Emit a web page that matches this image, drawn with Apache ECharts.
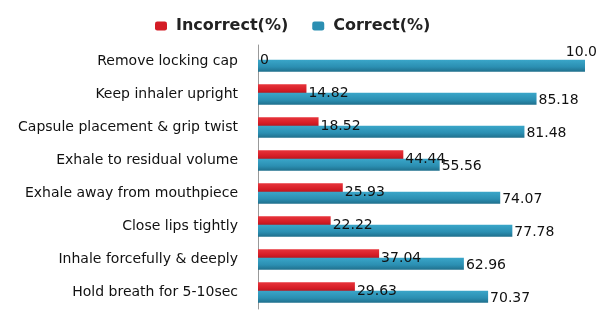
<!DOCTYPE html>
<html><head><meta charset="utf-8">
<script src="https://cdn.jsdelivr.net/npm/echarts@6/dist/echarts.min.js"></script>
<style>html,body{margin:0;padding:0;background:#fff}#c{width:601px;height:324px}</style>
</head><body><div id="c"></div>
<script>
var categories = ['Remove locking cap','Keep inhaler upright','Capsule placement & grip twist','Exhale to residual volume','Exhale away from mouthpiece','Close lips tightly','Inhale forcefully & deeply','Hold breath for 5-10sec'];
var incorrect = [0,14.82,18.52,44.44,25.93,22.22,37.04,29.63];
var correct = [100,85.18,81.48,55.56,74.07,77.78,62.96,70.37];
var incorrectLabels = ['0','14.82','18.52','44.44','25.93','22.22','37.04','29.63'];
var correctLabels = ['10.0','85.18','81.48','55.56','74.07','77.78','62.96','70.37'];

var chart = echarts.init(document.getElementById('c'), null, {renderer:'canvas'});
var font = 'DejaVu Sans';
var redGrad = new echarts.graphic.LinearGradient(0,0,0,1,[{offset:0,color:'#e8343b'},{offset:0.6,color:'#d41c25'},{offset:1,color:'#a8141b'}]);
var blueGrad = new echarts.graphic.LinearGradient(0,0,0,1,[{offset:0,color:'#3aa6c9'},{offset:0.6,color:'#2b8fb2'},{offset:1,color:'#1f6f8c'}]);
var correctData = correct.map(function(v,i){
  if(i===0) return {value:v,label:{position:'insideTopRight',offset:[14,-16]}};
  return v;
});
chart.setOption({
  animation:false,
  textStyle:{fontFamily:font},
  legend:{
    top:13,left:150,itemWidth:12,itemHeight:9,itemGap:24,
    textStyle:{fontFamily:font,fontSize:16,fontWeight:'bold',color:'#222',padding:[0,0,0,4]},
    data:[{name:'Incorrect(%)',itemStyle:{color:'#d41c25'}},{name:'Correct(%)',itemStyle:{color:'#2b8fb2'}}]
  },
  grid:{left:258,right:16,top:45,bottom:15},
  xAxis:{type:'value',min:0,max:100,show:false},
  yAxis:{type:'category',inverse:true,data:categories,
    axisLine:{show:true,lineStyle:{color:'#999'}},axisTick:{show:false},
    axisLabel:{fontFamily:font,fontSize:14,color:'#111',margin:20}},
  series:[
    {name:'Incorrect(%)',type:'bar',data:incorrect,barWidth:10,barGap:'-15%',
     itemStyle:{color:redGrad},
     label:{show:true,position:'right',distance:2,offset:[0,4],fontFamily:font,fontSize:14,color:'#111',
       formatter:function(p){return incorrectLabels[p.dataIndex];}}},
    {name:'Correct(%)',type:'bar',data:correctData,barWidth:12,
     itemStyle:{color:blueGrad},
     label:{show:true,position:'right',distance:2,offset:[0,2],fontFamily:font,fontSize:14,color:'#111',
       formatter:function(p){return correctLabels[p.dataIndex];}}}
  ]
});
</script></body></html>
